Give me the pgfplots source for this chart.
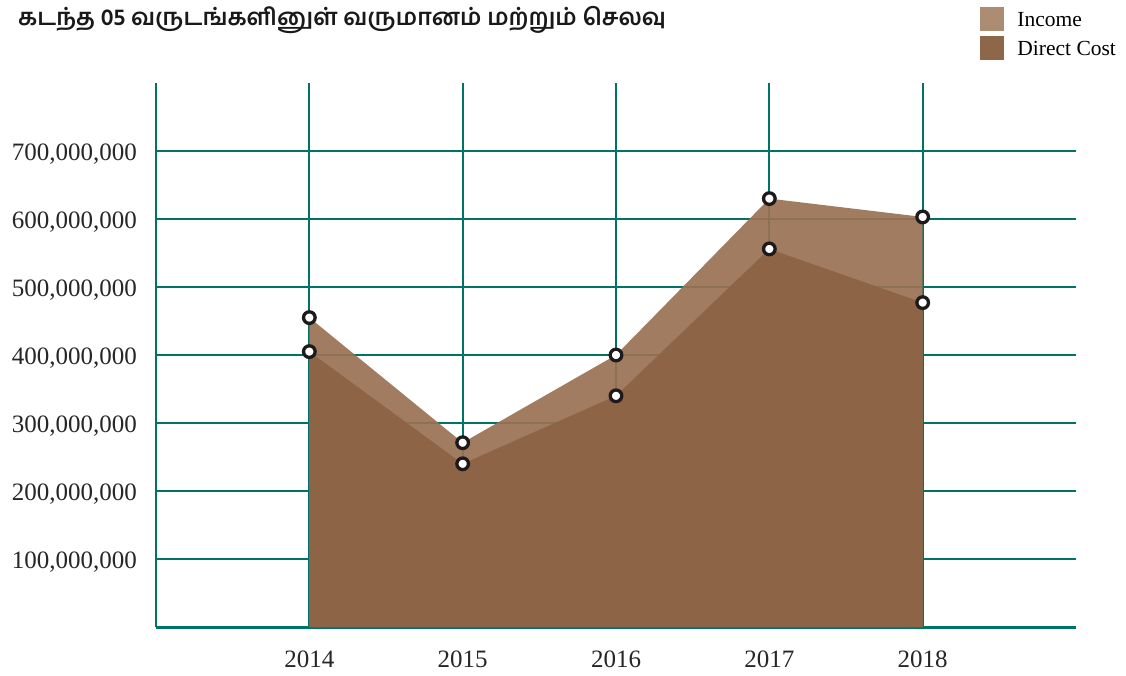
\documentclass[border=0pt]{standalone}
\usepackage{pgfplots}
\pgfplotsset{compat=1.18}
\usepackage{fontspec}
\setmainfont{Liberation Serif}
\newfontfamily\tamilfont[Script=Tamil]{Hind Madurai}
\definecolor{gridteal}{RGB}{0,115,105}
\definecolor{incomefill}{RGB}{154,113,82}
\definecolor{costfill}{RGB}{139,100,69}
\definecolor{legincome}{RGB}{173,140,116}
\definecolor{legcost}{RGB}{142,103,72}
\definecolor{markdark}{RGB}{30,26,28}
\begin{document}
\begin{tikzpicture}[x=1pt,y=1pt]
\path[use as bounding box] (0,0) rectangle (1126,675);
\begin{axis}[at={(156pt,48pt)}, anchor=south west, scale only axis,
  width=920pt, height=544pt,
  xmin=2013, xmax=2019, ymin=0, ymax=800000000,
  axis x line=bottom, axis y line=left,
  axis line style={gridteal, line width=2pt, -},
  x axis line style={line width=3pt},
  xtick={2014,2015,2016,2017,2018},
  xticklabels={2014,2015,2016,2017,2018},
  ytick={100000000,200000000,300000000,400000000,500000000,600000000,700000000},
  yticklabels={{100,000,000},{200,000,000},{300,000,000},{400,000,000},{500,000,000},{600,000,000},{700,000,000}},
  scaled y ticks=false,
  major tick length=0pt,
  grid=major, grid style={gridteal, line width=2pt},
  tick label style={font=\fontsize{25}{25}\selectfont, text=black!85, inner sep=0pt},
  yticklabel style={anchor=east, xshift=-19pt, yshift=-3pt},
  xticklabel style={anchor=north, yshift=-24pt},
  legend style={draw=none, fill=none, inner sep=0pt, outer sep=0pt,
    at={(0.8957,1.1397)}, anchor=north west,
    font=\fontsize{21.5}{21.5}\selectfont, row sep=6pt,
    nodes={inner sep=0pt}},
  legend cell align=left,
  clip=false,
]
\addplot[fill=incomefill, fill opacity=0.92, draw=none, forget plot] coordinates {
  (2014,455000000) (2015,271000000) (2016,400000000) (2017,630000000) (2018,603000000)
} \closedcycle;
\addplot[fill=costfill, fill opacity=0.92, draw=none, forget plot] coordinates {
  (2014,405000000) (2015,240000000) (2016,340000000) (2017,556000000) (2018,477000000)
} \closedcycle;
\addplot[only marks, mark=*, mark size=5.8pt, mark options={draw=markdark, fill=white, line width=3.3pt}, forget plot] coordinates {
  (2014,455000000) (2015,271000000) (2016,400000000) (2017,630000000) (2018,603000000)
};
\addplot[only marks, mark=*, mark size=5.8pt, mark options={draw=markdark, fill=white, line width=3.3pt}, forget plot] coordinates {
  (2014,405000000) (2015,240000000) (2016,340000000) (2017,556000000) (2018,477000000)
};
\addlegendimage{legend image code/.code={\fill[legincome] (0pt,-11.5pt) rectangle (23pt,11.5pt);}}
\addlegendentry{\hspace{14pt}\raisebox{-3pt}{Income}}
\addlegendimage{legend image code/.code={\fill[legcost] (0pt,-11.5pt) rectangle (23pt,11.5pt);}}
\addlegendentry{\hspace{14pt}\raisebox{-3pt}{Direct Cost}}
\end{axis}
\node[anchor=west, inner sep=0pt, font=\tamilfont\bfseries\fontsize{23.4}{23.4}\selectfont, text=black!90] at (18,655) {கடந்த 05 வருடங்களினுள் வருமானம் மற்றும் செலவு};
\end{tikzpicture}
\end{document}
